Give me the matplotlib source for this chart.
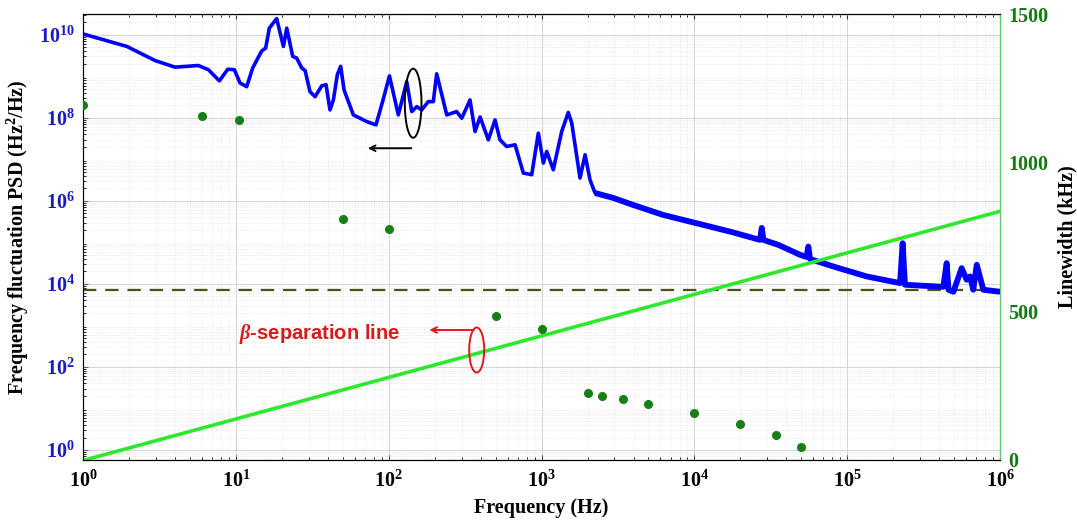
import numpy as np
import matplotlib
matplotlib.use("Agg")
import matplotlib.pyplot as plt
from matplotlib.patches import Ellipse

plt.rcParams['mathtext.fontset'] = 'custom'
plt.rcParams['mathtext.rm'] = 'Liberation Serif:bold'
plt.rcParams['mathtext.bf'] = 'Liberation Serif:bold'
plt.rcParams['mathtext.it'] = 'Liberation Serif:italic:bold'

# frequency noise PSD in decades (log10 Hz, log10 Hz^2/Hz)
psd_log_freq = [0.000, 0.286, 0.471, 0.602, 0.754, 0.820, 0.892, 0.947, 0.990, 1.027,
                1.071, 1.110, 1.169, 1.195, 1.219, 1.267, 1.311, 1.333, 1.372, 1.398,
                1.431, 1.453, 1.485, 1.518, 1.562, 1.590, 1.616, 1.638, 1.664, 1.686,
                1.708, 1.769, 1.856, 1.917, 1.963, 2.005, 2.063, 2.118, 2.151, 2.184,
                2.216, 2.259, 2.292, 2.314, 2.380, 2.445, 2.478, 2.532, 2.565, 2.598,
                2.652, 2.696, 2.728, 2.772, 2.827, 2.881, 2.936, 2.979, 3.012, 3.034,
                3.077, 3.132, 3.175, 3.198, 3.252, 3.285, 3.317, 3.350, 3.470, 3.601,
                3.797, 4.016, 4.234, 4.430, 4.441, 4.452, 4.550, 4.692, 4.734, 4.746,
                4.757, 4.909, 5.128, 5.346, 5.363, 5.378, 5.629, 5.651, 5.663, 5.695,
                5.749, 5.782, 5.804, 5.825, 5.848, 5.891, 6.000]
psd_log_value = [10.02, 9.72, 9.38, 9.22, 9.26, 9.16, 8.89, 9.17, 9.16, 8.84,
                 8.75, 9.20, 9.61, 9.68, 10.16, 10.39, 9.72, 10.16, 9.48, 9.44,
                 9.20, 9.14, 8.63, 8.51, 8.77, 8.80, 8.19, 8.43, 9.04, 9.24,
                 8.67, 8.07, 7.91, 7.83, 8.43, 9.01, 8.07, 8.87, 8.15, 8.27,
                 8.19, 8.39, 8.39, 9.06, 8.07, 8.15, 7.99, 8.43, 7.67, 8.02,
                 7.47, 7.95, 7.47, 7.31, 7.35, 6.67, 6.63, 7.63, 6.91, 7.19,
                 6.75, 7.67, 8.13, 7.87, 6.55, 7.11, 6.51, 6.19, 6.07, 5.90,
                 5.66, 5.46, 5.26, 5.06, 5.35, 5.06, 4.94, 4.70, 4.65, 4.90,
                 4.60, 4.42, 4.18, 4.02, 4.98, 3.98, 3.93, 4.50, 3.86, 3.81,
                 4.38, 4.10, 4.18, 3.86, 4.46, 3.86, 3.81]
noisy_from = 67  # index where the trace turns into a dense noisy band

# beta-separation line end points
beta_freq = [1.0, 1e6]
beta_psd = [0.56, 5.6e5]

# horizontal dashed level
level_psd = 7.0e3

# measured linewidth (kHz) against integration frequency
lw_freq = [1, 6, 10.5, 50, 100, 500, 1000, 2000, 2500, 3400, 5000,
           10000, 20000, 34000, 50000]
lw_khz = [1195, 1157, 1145, 812, 778, 484, 440, 224, 214, 204, 187,
          157, 120, 85, 45]

x_ticks = [1e0, 1e1, 1e2, 1e3, 1e4, 1e5, 1e6]
y_ticks = [1e0, 1e2, 1e4, 1e6, 1e8, 1e10]
y2_ticks = [0, 500, 1000, 1500]

serif = 'Liberation Serif'
blue_txt = '#1a1acc'
green_txt = '#117a11'

fig = plt.figure(figsize=(10.77, 5.23), dpi=100)
ax = fig.add_axes([0.0771, 0.1205, 0.8514, 0.8527])

f_psd = 10 ** np.array(psd_log_freq)
s_psd = 10 ** np.array(psd_log_value)
ax.plot(f_psd, s_psd, color='#0000ff', lw=2.6, zorder=3)
ax.plot(f_psd[noisy_from:], s_psd[noisy_from:], color='#0000ff', lw=4.2,
        solid_capstyle='butt', zorder=3)
ax.plot(beta_freq, beta_psd, color='#2ee82e', lw=2.6, zorder=4)
ax.axhline(level_psd, color='#4f4f1a', lw=1.6, ls=(0, (6, 4)), zorder=2)

ax.set_xscale('log')
ax.set_yscale('log')
ax.set_xlim(1, 1e6)
ax.set_ylim(10 ** -0.24, 10 ** 10.5)
ax.set_xticks(x_ticks)
ax.set_yticks(y_ticks)
ax.xaxis.set_minor_formatter(matplotlib.ticker.NullFormatter())
ax.yaxis.set_minor_locator(matplotlib.ticker.LogLocator(base=10, subs=np.arange(2, 10), numticks=30))
ax.yaxis.set_minor_formatter(matplotlib.ticker.NullFormatter())

ax.grid(which='major', color='#d4d4d4', lw=0.7)
ax.grid(which='minor', color='#dcdcdc', lw=0.5, ls=':')
ax.tick_params(which='both', direction='in', top=True, right=True)
ax.tick_params(axis='x', labelsize=14.5, pad=8, colors='#333333', labelcolor='black')
ax.tick_params(axis='y', labelsize=14.5, pad=6, colors='#5555aa', labelcolor=blue_txt)
for lab in ax.get_xticklabels() + ax.get_yticklabels():
    lab.set_family(serif)
    lab.set_fontweight('bold')
ax.spines['left'].set_color('#5555aa')

ax.set_xlabel('Frequency (Hz)', fontsize=14.5, fontweight='bold', family=serif)
ax.set_ylabel('Frequency fluctuation PSD (Hz$^2$/Hz)', fontsize=14.5,
              fontweight='bold', family=serif, va='center')
ax.yaxis.set_label_coords(-0.0705, 0.5)

ax2 = ax.twinx()
ax2.plot(lw_freq, lw_khz, 'o', color='#168016', ms=5.5, zorder=5)
ax2.set_ylim(0, 1500)
ax2.set_yticks(y2_ticks)
ax2.tick_params(axis='y', direction='in', labelsize=14.5, colors='#55bb55',
                labelcolor=green_txt, length=0, pad=6)
for lab in ax2.get_yticklabels():
    lab.set_family(serif)
    lab.set_fontweight('bold')
ax2.spines['right'].set_color('#66cc66')
ax2.set_ylabel('Linewidth (kHz)', fontsize=14.5, fontweight='bold', family=serif,
               va='center')
ax2.yaxis.set_label_coords(1.074, 0.5)

# black ellipse + arrow pointing to the left axis
ax2.add_patch(Ellipse((0.360, 0.800), 0.0182, 0.155, transform=ax2.transAxes,
                      fill=False, ec='black', lw=1.4, zorder=6))
ax2.annotate('', xy=(0.3075, 0.699), xytext=(0.361, 0.699),
             xycoords='axes fraction', textcoords='axes fraction',
             arrowprops=dict(arrowstyle='->', color='black', lw=1.4))

# red ellipse + arrow + label for the beta line
ax2.add_patch(Ellipse((0.4293, 0.2466), 0.0164, 0.101, transform=ax2.transAxes,
                      fill=False, ec='#dd1a1a', lw=1.4, zorder=6))
ax2.annotate('', xy=(0.3746, 0.2915), xytext=(0.4293, 0.2915),
             xycoords='axes fraction', textcoords='axes fraction',
             arrowprops=dict(arrowstyle='->', color='#dd1a1a', lw=1.4))
ax2.text(0.3456, 0.282, r'$\beta$' + '-separation line', transform=ax2.transAxes,
         color='#dd1a1a', fontsize=14.5, fontweight='bold', family='Liberation Sans',
         ha='right', va='center')

fig.savefig('out.png', dpi=100)
